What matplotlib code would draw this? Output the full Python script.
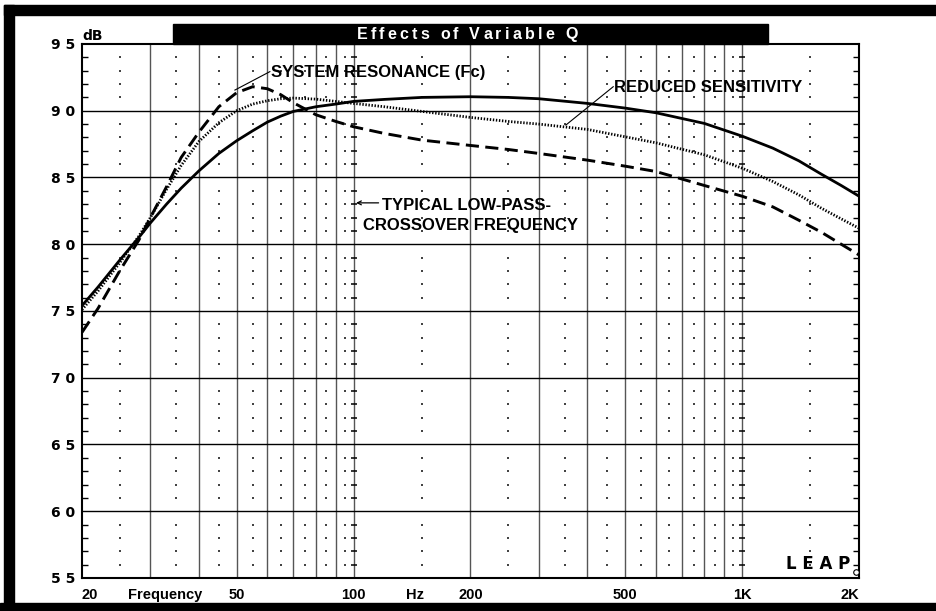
import matplotlib
matplotlib.use('Agg')
import matplotlib.pyplot as plt
from matplotlib.patches import Rectangle
from matplotlib.ticker import MultipleLocator, NullLocator
from matplotlib.font_manager import FontProperties

# ---------------- data ----------------
freq = [20, 22, 25, 28, 30, 33, 36, 40, 45, 50, 55, 60, 65, 70, 80, 90, 100,
        120, 150, 200, 250, 300, 400, 500, 600, 800, 1000, 1200, 1400, 1600, 1800, 2000]
solid_db = [75.4, 76.8, 78.8, 80.5, 81.6, 83.0, 84.2, 85.5, 86.8, 87.75, 88.5, 89.15, 89.6,
            89.95, 90.3, 90.5, 90.7, 90.85, 91.0, 91.05, 91.0, 90.9, 90.55, 90.2, 89.85,
            89.05, 88.1, 87.2, 86.25, 85.25, 84.4, 83.6]
dotted_db = [75.1, 76.5, 78.6, 80.6, 82.0, 84.1, 85.9, 87.7, 89.1, 90.0, 90.5, 90.75, 90.9,
             90.95, 90.87, 90.7, 90.55, 90.3, 89.95, 89.5, 89.2, 89.0, 88.6, 88.05, 87.6,
             86.7, 85.7, 84.7, 83.7, 82.7, 81.9, 81.2]
dashed_db = [73.4, 75.2, 78.0, 80.3, 82.0, 84.3, 86.5, 88.4, 90.3, 91.35, 91.8, 91.65, 91.2,
             90.6, 89.7, 89.2, 88.8, 88.3, 87.8, 87.4, 87.1, 86.8, 86.3, 85.85, 85.45,
             84.4, 83.6, 82.8, 81.8, 80.9, 80.0, 79.2]

y_ticks = [55, 60, 65, 70, 75, 80, 85, 90, 95]
y_tick_labels = ['5 5', '6 0', '6 5', '7 0', '7 5', '8 0', '8 5', '9 0', '9 5']
x_label_pos = [20, 32.7, 50, 100, 144, 200, 500, 1000, 2000]
x_label_text = ['20', 'Frequency', '50', '100', 'Hz', '200', '500', '1K', '2K']

grid_freqs = [30, 40, 50, 60, 70, 80, 90, 100, 200, 300, 400, 500, 600, 700, 800, 900, 1000]
dot_freqs = [25, 35, 45, 55, 65, 75, 85, 95, 150, 250, 350, 450, 550, 650, 750, 850, 950, 1500]

title = 'Effects of Variable Q'

W, H = 937, 611
fig = plt.figure(figsize=(W / 100, H / 100), dpi=100)
fig.patch.set_facecolor('white')
ax = fig.add_axes([82 / W, 33 / H, 777 / W, 534 / H])
ax.set_xscale('log')
ax.set_xlim(20, 2000)
ax.set_ylim(55, 95)

# grid
ax.vlines(grid_freqs, 55, 95, color='#555555', lw=1.0, zorder=1)
ax.hlines(y_ticks[1:-1], 20, 2000, color='black', lw=1.0, zorder=1)
dx, dy = [], []
for f in dot_freqs:
    for v in range(56, 95):
        if v % 5:
            dx.append(f)
            dy.append(v)
ax.scatter(dx, dy, s=1.0, color='#444444', marker='s', lw=0, zorder=1)
minor_db = [v for v in range(56, 95) if v % 5]
for f in (100, 1000):
    ax.plot([f] * len(minor_db), minor_db, ls='none', marker='_', ms=5, mew=1.1,
            color='black', zorder=2)

# curves
ax.plot(freq, solid_db, color='black', lw=2.0, zorder=5, solid_capstyle='butt',
        solid_joinstyle='round')
ax.plot(freq, dotted_db, color='black', lw=2.0, ls=(0, (0.5, 0.6)), zorder=5)
ax.plot(freq, dashed_db, color='black', lw=2.1, ls=(0, (4.5, 2.2)), zorder=5)

# spines & ticks
for s in ax.spines.values():
    s.set_linewidth(1.5)
    s.set_color('black')
ax.set_yticks(y_ticks)
ax.set_yticklabels(y_tick_labels, fontsize=10, fontweight='bold', family='DejaVu Sans')
ax.yaxis.set_minor_locator(MultipleLocator(1))
ax.tick_params(axis='y', which='major', length=0, pad=5)
ax.tick_params(axis='y', which='minor', direction='in', length=4, width=1,
               left=True, right=True)
ax.set_xticks(x_label_pos)
ax.set_xticklabels(x_label_text, fontsize=10.5, fontweight='bold', family='Liberation Sans')
ax.xaxis.set_minor_locator(NullLocator())
ax.tick_params(axis='x', which='major', length=0, pad=7)
xl = ax.get_xticklabels()
xl[0].set_ha('left')
xl[-1].set_ha('right')

# annotations
afont = dict(fontsize=12, fontweight='bold', family='Liberation Sans', color='black')
ax.plot([49.5, 60.9], [91.55, 92.93], color='black', lw=0.8, zorder=6)
ax.text(61.3, 92.53, 'SYSTEM RESONANCE (Fc)', va='baseline', ha='left', **afont)
ax.plot([352, 466], [88.93, 91.8], color='black', lw=0.8, zorder=6)
ax.text(467, 91.4, 'REDUCED SENSITIVITY', va='baseline', ha='left', **afont)
ax.annotate('', xy=(101.5, 83.1), xytext=(116, 83.1),
            arrowprops=dict(arrowstyle='->', lw=0.9, color='black', mutation_scale=7,
                            shrinkA=0, shrinkB=0))
ax.text(118.2, 82.57, 'TYPICAL LOW-PASS-', va='baseline', ha='left', **afont)
ax.text(105.8, 81.07, 'CROSSOVER FREQUENCY', va='baseline', ha='left', **afont)

# LEAP logo
ax.text(1567, 55.7, 'L E A P', fontsize=12, fontweight='bold', family='DejaVu Sans',
        ha='center', va='baseline', color='black')
ax.plot([1960], [55.45], marker='o', ms=4, mfc='white', mec='black', mew=0.8, zorder=6,
        clip_on=False)

# frame and title bar
fig.patches.append(Rectangle((4 / W, 1 - 15 / H), 1, 10 / H, transform=fig.transFigure,
                             color='black', zorder=0))
fig.patches.append(Rectangle((4 / W, 0), 10 / W, 1 - 5 / H, transform=fig.transFigure,
                             color='black', zorder=0))
fig.patches.append(Rectangle((0, 0), 1, 8 / H, transform=fig.transFigure,
                             color='black', zorder=0))
fig.patches.append(Rectangle((173 / W, 1 - 44 / H), (768 - 173) / W, 20 / H,
                             transform=fig.transFigure, color='black', zorder=0))

# letter-spaced title
renderer = fig.canvas.get_renderer()
tprop = FontProperties(family='Liberation Sans', weight='bold', size=11.5)
spacing = 3.2  # px between letters
widths = [renderer.get_text_width_height_descent(c, tprop, ismath=False)[0]
          for c in title]
total = sum(widths) + spacing * (len(title) - 1)
x = 467 - total / 2
for c, w in zip(title, widths):
    if c != ' ':
        fig.text(x / W, 1 - 39 / H, c, color='white', fontproperties=tprop,
                 ha='left', va='baseline')
    x += w + spacing

fig.text(82 / W, 1 - 40 / H, 'dB', color='black', fontsize=10, fontweight='bold',
         family='DejaVu Sans', ha='left', va='baseline')

fig.savefig('out.png', dpi=100)
